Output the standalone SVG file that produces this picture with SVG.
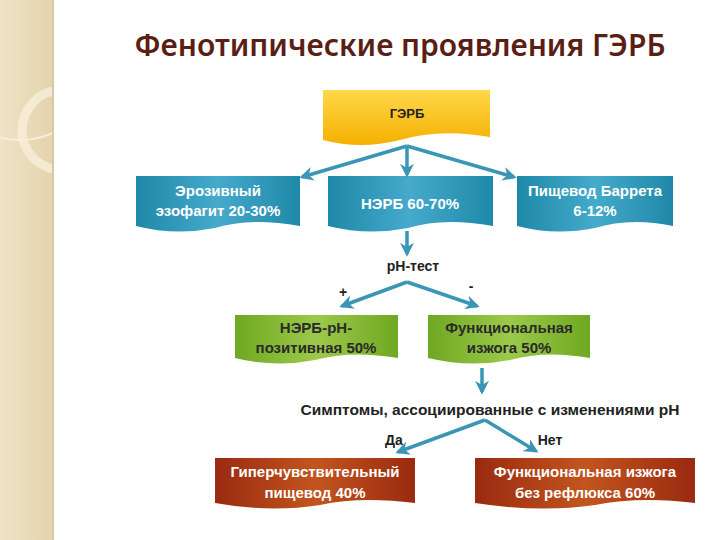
<svg xmlns="http://www.w3.org/2000/svg" width="720" height="540" viewBox="0 0 720 540">
<defs>
<linearGradient id="gy" x1="0" y1="0" x2="0" y2="1"><stop offset="0" stop-color="#ffd84a"/><stop offset="1" stop-color="#f5b000"/></linearGradient>
<linearGradient id="gb" x1="0" y1="0" x2="1" y2="0"><stop offset="0" stop-color="#1f88a8"/><stop offset="0.5" stop-color="#45aacb"/><stop offset="1" stop-color="#1f88a8"/></linearGradient>
<linearGradient id="gg" x1="0" y1="0" x2="1" y2="0"><stop offset="0" stop-color="#6fa822"/><stop offset="0.5" stop-color="#9cc94a"/><stop offset="1" stop-color="#6fa822"/></linearGradient>
<linearGradient id="gr" x1="0" y1="0" x2="1" y2="0"><stop offset="0" stop-color="#9a2a10"/><stop offset="0.5" stop-color="#c2551e"/><stop offset="1" stop-color="#9a2a10"/></linearGradient>
<linearGradient id="side" x1="0" y1="0" x2="1" y2="0"><stop offset="0" stop-color="#efe3c6"/><stop offset="1" stop-color="#e3d4ad"/></linearGradient>
<clipPath id="cp"><rect x="0" y="0" width="53" height="540"/></clipPath>
<marker id="ah" viewBox="0 0 10 10" refX="8" refY="5" markerWidth="4" markerHeight="4" orient="auto"><path d="M0,0 L10,5 L0,10 L3,5 Z" fill="#3a96b4"/></marker>
</defs>
<style>
.t{font-family:"Liberation Sans",Arial,sans-serif;font-weight:bold;text-anchor:middle}
.w{fill:#fff;font-size:15px}
.k{fill:#222;font-size:14px}
.c{stroke:#3a96b4;stroke-width:3.5;fill:none;marker-end:url(#ah)}
</style>
<rect width="720" height="540" fill="#fff"/>
<rect x="0" y="0" width="53" height="540" fill="url(#side)"/>
<g clip-path="url(#cp)">
<circle cx="62" cy="130" r="40" fill="none" stroke="#f7efdc" stroke-width="9" opacity="0.8"/>
<circle cx="20" cy="60" r="80" fill="none" stroke="#f7efdc" stroke-width="2"/>
</g>
<line x1="53" y1="0" x2="53" y2="540" stroke="#d8c9a0" stroke-width="2"/>
<text x="400" y="56" font-family="Noto Sans,Open Sans,sans-serif" font-size="30" font-weight="600" fill="#5a1e14" text-anchor="middle">Фенотипические проявления ГЭРБ</text>
<g id="gerb"><path d="M323,90 H490 V137 Q440,128 400,140 Q360,150 323,140 Z" fill="url(#gy)"/><text class="t k" x="407" y="118" style="font-size:13px">ГЭРБ</text></g>
<g id="eroz"><path d="M136,176 H300 V226 Q250,217 215,228 Q175,236 136,226 Z" fill="url(#gb)"/><text class="t w" x="218" y="196">Эрозивный</text><text class="t w" x="218" y="216">эзофагит 20-30%</text></g>
<g id="nerb"><path d="M328,176 H493 V226 Q443,217 408,228 Q368,236 328,226 Z" fill="url(#gb)"/><text class="t w" x="410" y="209">НЭРБ 60-70%</text></g>
<g id="barrett"><path d="M517,176 H673 V226 Q630,217 595,228 Q555,236 517,226 Z" fill="url(#gb)"/><text class="t w" x="595" y="196">Пищевод Баррета</text><text class="t w" x="595" y="216">6-12%</text></g>
<g id="nerbph"><path d="M235,315 H398 V358 Q350,350 315,360 Q275,368 235,358 Z" fill="url(#gg)"/><text class="t w" x="316" y="333" style="fill:#2a2a2a">НЭРБ-рН-</text><text class="t w" x="316" y="353" style="fill:#2a2a2a">позитивная 50%</text></g>
<g id="func"><path d="M428,315 H590 V358 Q545,350 510,360 Q470,368 428,358 Z" fill="url(#gg)"/><text class="t w" x="509" y="333" style="fill:#2a2a2a">Функциональная</text><text class="t w" x="509" y="353" style="fill:#2a2a2a">изжога 50%</text></g>
<g id="hyper"><path d="M215,458 H415 V503 Q360,496 320,505 Q270,513 215,503 Z" fill="url(#gr)"/><text class="t w" x="315" y="477">Гиперчувствительный</text><text class="t w" x="315" y="498">пищевод 40%</text></g>
<g id="funcnr"><path d="M475,458 H695 V503 Q640,496 595,505 Q540,513 475,503 Z" fill="url(#gr)"/><text class="t w" x="585" y="477">Функциональная изжога</text><text class="t w" x="585" y="498">без рефлюкса 60%</text></g>
<g id="labels">
<text class="t k" x="413" y="271">рН-тест</text>
<text class="t k" x="343" y="297">+</text>
<text class="t k" x="471" y="291">-</text>
<text class="t k" x="490" y="415" style="font-size:15.5px">Симптомы, ассоциированные с изменениями рН</text>
<text class="t k" x="394" y="445">Да</text>
<text class="t k" x="550" y="445">Нет</text>
</g>
<g id="connectors">
<path class="c" d="M407,146 L302,177"/>
<path class="c" d="M407,146 L407,175"/>
<path class="c" d="M407,146 L514,177"/>
<path class="c" d="M407,231 L407,254"/>
<path class="c" d="M407,282 L342,306"/>
<path class="c" d="M407,282 L477,306"/>
<path class="c" d="M482,368 L482,392"/>
<path class="c" d="M485,420 L398,452"/>
<path class="c" d="M485,420 L536,451"/>
</g>
</svg>
